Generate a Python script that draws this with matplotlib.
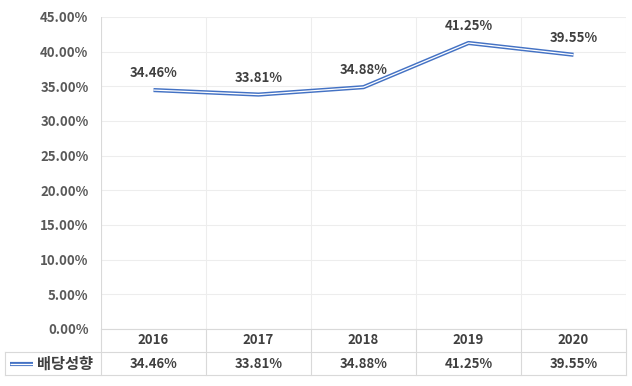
import matplotlib.pyplot as plt
import matplotlib.transforms as mtransforms
from matplotlib.lines import Line2D

plt.rcParams['font.family'] = ['Noto Sans CJK KR', 'DejaVu Sans']

years = ['2016', '2017', '2018', '2019', '2020']
payout = [34.46, 33.81, 34.88, 41.25, 39.55]
series_name = '배당성향'

W, H = 632, 386
fig = plt.figure(figsize=(W / 100, H / 100), dpi=100)
left, right, top, bottom = 101, 626, 17, 329
ax = fig.add_axes([left / W, 1 - bottom / H, (right - left) / W, (bottom - top) / H])

x = list(range(len(years)))
blue = '#4472C4'
grid_c = '#EDEDED'
tab_c = '#D9D9D9'

# double line: thick blue with white core
ax.plot(x, payout, color=blue, lw=3.0, solid_capstyle='butt', zorder=3)
ax.plot(x, payout, color='white', lw=0.9, solid_capstyle='butt', zorder=4)

for xi, v in zip(x, payout):
    ax.annotate(f'{v:.2f}%', (xi, v), xytext=(0, 7), textcoords='offset points',
                ha='center', va='bottom', fontsize=9.5, fontweight='bold', color='#404040')

ax.set_xlim(-0.5, len(years) - 0.5)
ax.set_ylim(0, 45)
ax.set_yticks(range(0, 46, 5))
ax.set_yticklabels([f'{t:.2f}%' for t in range(0, 46, 5)])
ax.tick_params(axis='y', length=0, pad=9, labelsize=9.5, labelcolor='#595959')
for lab in ax.get_yticklabels():
    lab.set_fontweight('bold')
ax.set_xticks([])
ax.grid(axis='y', color=grid_c, lw=0.8)
for b in [i + 0.5 for i in range(len(years) - 1)]:
    ax.axvline(b, color=grid_c, lw=0.8, zorder=0)
for s in ax.spines.values():
    s.set_visible(False)
ax.axvline(-0.5, color=tab_c, lw=0.8)
ax.axvline(len(years) - 0.5, color=grid_c, lw=0.8)

# data table below axes
trans = mtransforms.blended_transform_factory(ax.transData, ax.transAxes)
row = 23 / (bottom - top)
cat_px = (right - left) / len(years)
xl = -0.5 - (left - 5) / cat_px
line_kw = dict(color=tab_c, lw=0.8, transform=trans, clip_on=False)
ax.add_line(Line2D([-0.5, len(years) - 0.5], [0, 0], **line_kw))
ax.add_line(Line2D([xl, len(years) - 0.5], [-row, -row], **line_kw))
ax.add_line(Line2D([xl, len(years) - 0.5], [-2 * row, -2 * row], **line_kw))
ax.add_line(Line2D([xl, xl], [-row, -2 * row], **line_kw))
for b in [i - 0.5 for i in range(len(years) + 1)]:
    ax.add_line(Line2D([b, b], [0, -2 * row], **line_kw))

for xi, yr, v in zip(x, years, payout):
    ax.text(xi, -row / 2, yr, transform=trans, ha='center', va='center',
            fontsize=9.5, fontweight='bold', color='#404040')
    ax.text(xi, -1.5 * row, f'{v:.2f}%', transform=trans, ha='center', va='center',
            fontsize=9.5, fontweight='bold', color='#404040')

# legend key in table
lx0, lx1 = xl + 5 / cat_px, xl + 28 / cat_px
ax.add_line(Line2D([lx0, lx1], [-1.5 * row] * 2, color=blue, lw=3.0, transform=trans,
                   clip_on=False, solid_capstyle='butt'))
ax.add_line(Line2D([lx0, lx1], [-1.5 * row] * 2, color='white', lw=0.9, transform=trans,
                   clip_on=False, solid_capstyle='butt'))
ax.text(lx1 + 4 / cat_px, -1.5 * row, series_name, transform=trans, ha='left', va='center',
        fontsize=11, fontweight='bold', color='#404040')

fig.savefig('out.png', dpi=100)
